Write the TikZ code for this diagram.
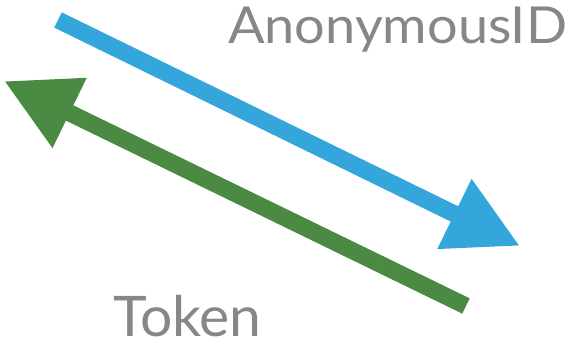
\documentclass[tikz,border=0pt]{standalone}
\usepackage{fontspec}
\setmainfont{Lato}
\usetikzlibrary{arrows.meta}
\definecolor{arrblue}{HTML}{34A6DC}
\definecolor{arrgreen}{HTML}{4A8A42}
\definecolor{txtgray}{HTML}{878787}
\tikzset{
  fatarrow/.style={line width=17pt, line cap=butt, -{Triangle[length=73pt,width=73pt]}},
  lbl/.style={text=txtgray, inner sep=0pt, anchor=base west}
}
\begin{document}
\begin{tikzpicture}[x=1pt,y=-1pt]
\useasboundingbox (0,0) rectangle (574,344);
\coordinate (bs) at (58,20);
\coordinate (be) at (520,246);
\coordinate (gs) at (466,306);
\coordinate (ge) at (4,81);
\draw[fatarrow, arrblue] (bs) -- (be);
\draw[fatarrow, arrgreen] (gs) -- (ge);
\node[lbl, font=\fontsize{51}{51}\selectfont, xscale=1.06, transform shape] (anon) at (228,44) {AnonymousID};
\node[lbl, font=\fontsize{56}{56}\selectfont, xscale=1.02, transform shape] (tok) at (113,337) {Token};
\end{tikzpicture}
\end{document}
